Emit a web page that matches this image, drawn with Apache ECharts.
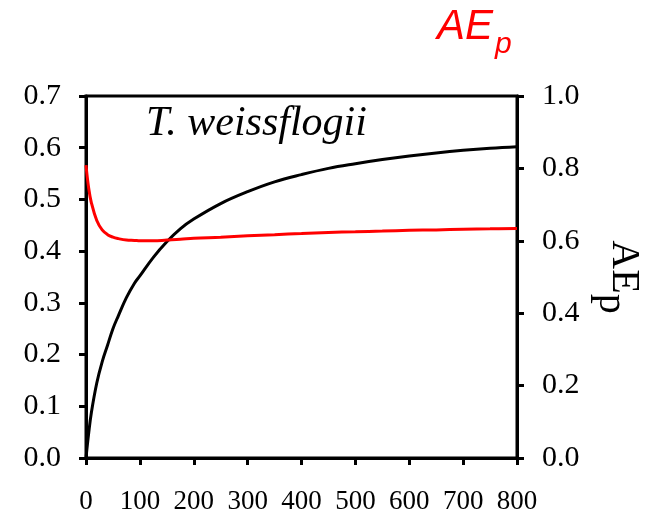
<!DOCTYPE html>
<html>
<head>
<meta charset="utf-8">
<script src="https://cdn.jsdelivr.net/npm/echarts@6/dist/echarts.min.js"></script>
<style>
  html, body { margin: 0; padding: 0; background: #fff; }
  #chart { width: 654px; height: 512px; }
</style>
</head>
<body>
<div id="chart"></div>
<script>
// x values
var xVals = [0, 5, 10, 20, 30, 40, 50, 60, 75, 90, 100, 125, 150, 175, 200, 250, 300, 350, 400, 450, 500, 550, 600, 650, 700, 750, 800]
// black curve, left axis
var blackVals = [0, 0.048, 0.088, 0.145, 0.186, 0.218, 0.250, 0.275, 0.310, 0.338, 0.352, 0.388, 0.418, 0.443, 0.462, 0.492, 0.515, 0.534, 0.548, 0.560, 0.569, 0.577, 0.584, 0.590, 0.595, 0.599, 0.602]
// red curve AEp, right axis
var redVals = [0.809, 0.745, 0.705, 0.656, 0.630, 0.617, 0.610, 0.606, 0.602, 0.601, 0.600, 0.600, 0.602, 0.604, 0.607, 0.610, 0.614, 0.617, 0.620, 0.623, 0.625, 0.627, 0.629, 0.630, 0.632, 0.633, 0.634]

function pairs(xs, ys) {
  var res = []
  xs.forEach(function(x, i) {
    res.push([x, ys[i]])
  })
  return res
}

var serif = 'Liberation Serif'
var axisLine = { show: true, lineStyle: { color: '#000', width: 3 } }
var axisTick = { show: true, inside: false, length: 7, lineStyle: { color: '#000', width: 3 } }
var yLabel = { color: '#000', fontFamily: serif, fontSize: 30, margin: 25, formatter: function(v) { return v.toFixed(1) } }

var chart = echarts.init(document.getElementById('chart'))
chart.setOption({
  animation: false,
  title: {
    text: '{a|AE}{s|p}',
    left: 437,
    top: 6,
    padding: 0,
    textStyle: {
      rich: {
        a: { fontFamily: 'Liberation Sans', fontStyle: 'italic', fontWeight: 'normal', fontSize: 42, color: '#ff0000', lineHeight: 42, verticalAlign: 'top' },
        s: { fontFamily: 'Liberation Sans', fontStyle: 'italic', fontWeight: 'normal', fontSize: 30, color: '#ff0000', lineHeight: 30, verticalAlign: 'top', padding: [24, 0, 0, 2] }
      }
    }
  },
  graphic: [{
    type: 'text',
    left: 146,
    top: 103,
    style: { text: 'T. weissflogii', font: 'italic 42px "Liberation Serif"', fill: '#000' }
  }],
  grid: {
    left: 86, right: 137, top: 96, bottom: 54,
    outerBoundsMode: 'none',
    containLabel: false,
    show: true, borderColor: '#000', borderWidth: 3
  },
  xAxis: {
    type: 'value',
    min: 0, max: 800, interval: 100,
    axisLine: axisLine,
    axisTick: axisTick,
    splitLine: { show: false },
    axisLabel: { color: '#000', fontFamily: serif, fontSize: 27, margin: 30 }
  },
  yAxis: [{
    type: 'value',
    min: 0, max: 0.7, interval: 0.1,
    position: 'left',
    axisLine: axisLine,
    axisTick: axisTick,
    splitLine: { show: false },
    axisLabel: yLabel
  }, {
    type: 'value',
    min: 0, max: 1, interval: 0.2,
    position: 'right',
    axisLine: axisLine,
    axisTick: axisTick,
    splitLine: { show: false },
    axisLabel: yLabel,
    name: '{a|AE}{s|p}',
    nameLocation: 'middle',
    nameRotate: -90,
    nameGap: 84,
    nameTextStyle: {
      rich: {
        a: { fontFamily: serif, fontSize: 40, color: '#000', lineHeight: 40, verticalAlign: 'top' },
        s: { fontFamily: serif, fontSize: 40, color: '#000', lineHeight: 40, verticalAlign: 'top', padding: [13, 0, 0, 0] }
      }
    }
  }],
  series: [{
    type: 'line',
    yAxisIndex: 0,
    smooth: 0.4,
    showSymbol: false,
    lineStyle: { color: '#000', width: 3 },
    data: pairs(xVals, blackVals)
  }, {
    type: 'line',
    yAxisIndex: 1,
    smooth: 0.4,
    showSymbol: false,
    lineStyle: { color: '#ff0000', width: 3 },
    data: pairs(xVals, redVals)
  }]
})
</script>
</body>
</html>
